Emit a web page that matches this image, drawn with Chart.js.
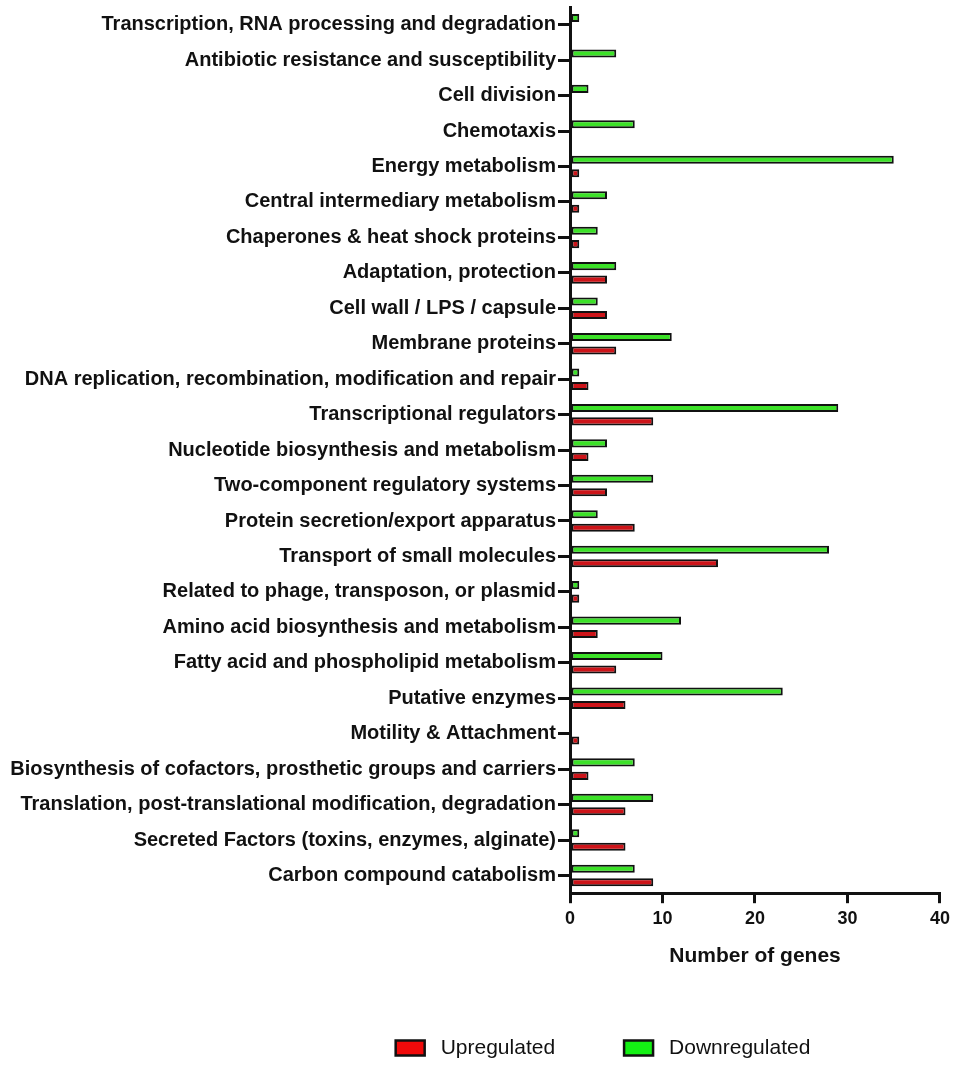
<!DOCTYPE html>
<html>
<head>
<meta charset="utf-8">
<script src="https://cdn.jsdelivr.net/npm/chart.js@4"></script>
<style>
    body { margin: 0; background: #fff; }
</style>
</head>
<body>
<canvas id="myChart" width="955" height="1066"></canvas>
<script>
const categories = [
    'Transcription, RNA processing and degradation',
    'Antibiotic resistance and susceptibility',
    'Cell division',
    'Chemotaxis',
    'Energy metabolism',
    'Central intermediary metabolism',
    'Chaperones & heat shock proteins',
    'Adaptation, protection',
    'Cell wall / LPS / capsule',
    'Membrane proteins',
    'DNA replication, recombination, modification and repair',
    'Transcriptional regulators',
    'Nucleotide biosynthesis and metabolism',
    'Two-component regulatory systems',
    'Protein secretion/export apparatus',
    'Transport of small molecules',
    'Related to phage, transposon, or plasmid',
    'Amino acid biosynthesis and metabolism',
    'Fatty acid and phospholipid metabolism',
    'Putative enzymes',
    'Motility & Attachment',
    'Biosynthesis of cofactors, prosthetic groups and carriers',
    'Translation, post-translational modification, degradation',
    'Secreted Factors (toxins, enzymes, alginate)',
    'Carbon compound catabolism'
];
const downregulated = [1, 5, 2, 7, 35, 4, 3, 5, 3, 11, 1, 29, 4, 9, 3, 28, 1, 12, 10, 23, 0, 7, 9, 1, 7];
const upregulated = [0, 0, 0, 0, 1, 1, 1, 4, 4, 5, 2, 9, 2, 4, 7, 16, 1, 3, 5, 6, 1, 2, 6, 6, 9];
const xTicks = [0, 10, 20, 30, 40];

const FONT = "'Liberation Sans', Arial, Helvetica, sans-serif";

// legend drawn by hand, Upregulated first
const bottomLegend = {
    id: 'bottomLegend',
    afterDraw(chart) {
        const ctx = chart.ctx;
        const items = [chart.data.datasets[1], chart.data.datasets[0]];
        ctx.save();
        ctx.font = '21px ' + FONT;
        const boxW = 29, boxH = 15, textGap = 16, itemGap = 69;
        let total = 0;
        items.forEach((ds, i) => {
            total += boxW + textGap + ctx.measureText(ds.label).width;
            if (i < items.length - 1) total += itemGap;
        });
        let x = 603 - total / 2;
        const y = 1048;
        items.forEach(ds => {
            ctx.fillStyle = ds.legendColor;
            ctx.strokeStyle = '#111';
            ctx.lineWidth = 2.5;
            ctx.fillRect(x, y - boxH / 2, boxW, boxH);
            ctx.strokeRect(x, y - boxH / 2, boxW, boxH);
            x += boxW + textGap;
            ctx.fillStyle = '#111';
            ctx.textBaseline = 'middle';
            ctx.fillText(ds.label, x, y);
            x += ctx.measureText(ds.label).width + itemGap;
        });
        ctx.restore();
    }
};

const chartData = {
    labels: categories,
    datasets: [
        {
            label: 'Downregulated',
            data: downregulated,
            backgroundColor: 'rgb(60, 225, 40)',
            legendColor: 'rgb(20, 240, 20)',
            borderColor: '#111',
            borderWidth: 2,
            borderSkipped: false,
            categoryPercentage: 0.76,
            barPercentage: 0.6
        },
        {
            label: 'Upregulated',
            data: upregulated,
            backgroundColor: 'rgb(205, 20, 25)',
            legendColor: 'rgb(240, 10, 10)',
            borderColor: '#111',
            borderWidth: 2,
            borderSkipped: false,
            categoryPercentage: 0.76,
            barPercentage: 0.6
        }
    ]
};

const config = {
    type: 'bar',
    data: chartData,
    options: {
        indexAxis: 'y',
        responsive: false,
        animation: false,
        layout: {
            padding: { left: 0, right: 15, top: 7, bottom: 97 }
        },
        plugins: {
            legend: { display: false },
            tooltip: { enabled: false }
        },
        scales: {
            x: {
                min: 0,
                max: 40,
                afterBuildTicks: scale => {
                    scale.ticks = xTicks.map(v => ({ value: v }));
                },
                grid: {
                    drawOnChartArea: false,
                    drawTicks: true,
                    tickLength: 10,
                    color: '#111',
                    lineWidth: 3
                },
                border: { display: true, color: '#111', width: 3 },
                ticks: {
                    color: '#111',
                    padding: 5,
                    font: { family: FONT, size: 18, weight: 'bold' }
                },
                title: {
                    display: true,
                    text: 'Number of genes',
                    color: '#111',
                    padding: { top: 9, bottom: 0 },
                    font: { family: FONT, size: 21, weight: 'bold' }
                }
            },
            y: {
                afterFit: scale => {
                    scale.width = 570;
                    scale.paddingTop = 0;
                    scale.paddingBottom = 0;
                },
                grid: {
                    offset: false,
                    drawOnChartArea: false,
                    drawTicks: true,
                    tickLength: 12,
                    color: '#111',
                    lineWidth: 3
                },
                border: { display: true, color: '#111', width: 3 },
                ticks: {
                    color: '#111',
                    padding: 2,
                    autoSkip: false,
                    font: { family: FONT, size: 20, weight: 'bold' }
                }
            }
        }
    },
    plugins: [bottomLegend]
};

const ctx = document.getElementById('myChart').getContext('2d');

if (ctx) {
    new Chart(ctx, config);
}
</script>
</body>
</html>
